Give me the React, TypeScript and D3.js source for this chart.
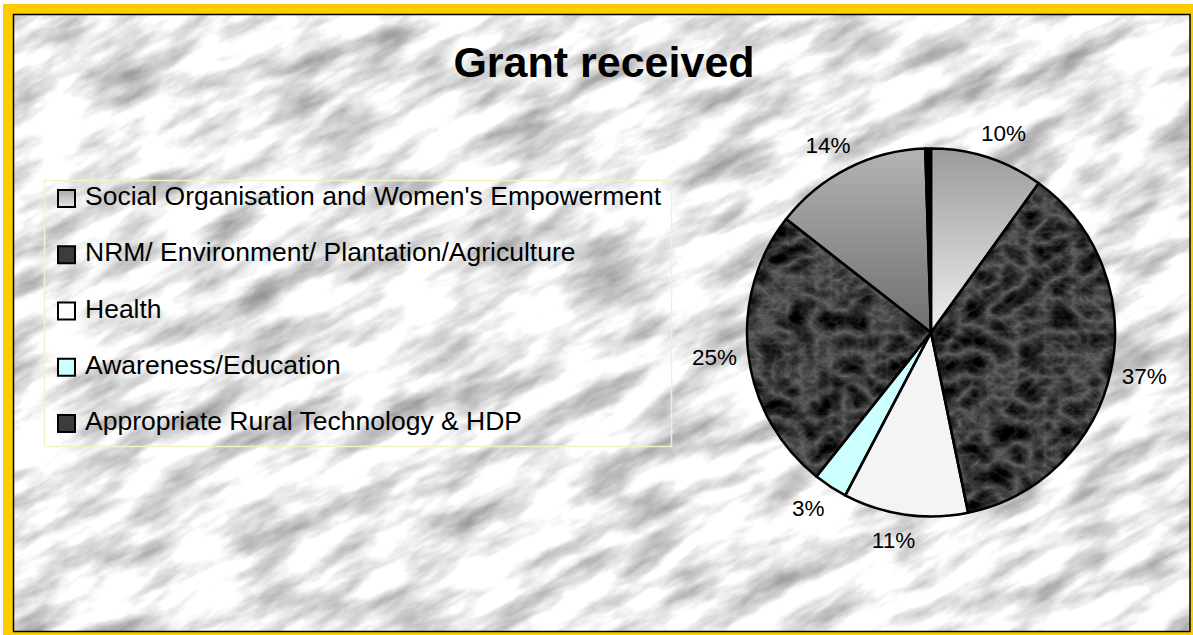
import React from 'react';
import * as d3 from 'd3';

const title = 'Grant received';
const legendLabels = [
  "Social Organisation and Women's Empowerment",
  'NRM/ Environment/ Plantation/Agriculture',
  'Health',
  'Awareness/Education',
  'Appropriate Rural Technology & HDP',
];
// slice values, clockwise from 12 o'clock (last two slices are not listed in the legend)
const sliceValues = [10, 37, 11, 3, 25, 14, 0.5];
const sliceFills = ['url(#gradLight)', 'marble', '#f4f4f4', '#ccffff', 'marble', 'url(#gradMid)', '#000000'];
const legendFills = ['url(#gradSwatch)', '#3c3c3c', '#ffffff', '#ccffff', '#3c3c3c'];

const W = 1193;
const H = 635;
const cx = 931;
const cy = 332.5;
const R = 184;

export default function App() {
  const pie = d3.pie<number>().sort(null).value((d) => d);
  const arcs = pie(sliceValues);
  const arc = d3.arc<d3.PieArcDatum<number>>().innerRadius(0).outerRadius(R);
  const total = d3.sum(sliceValues);
  const fmt = d3.format('.0%');

  const legendY = d3.scalePoint<number>().domain(d3.range(legendLabels.length)).range([205, 430]);

  return (
    <svg width={W} height={H} style={{ position: 'absolute', left: 0, top: 0, background: '#fff' }}
      fontFamily="'Liberation Sans', Arial, sans-serif">
      <defs>
        <filter id="bgMarble" filterUnits="userSpaceOnUse" x={-400} y={-600} width={2000} height={1800}
          colorInterpolationFilters="sRGB">
          <feTurbulence type="fractalNoise" baseFrequency="0.012 0.04" numOctaves={5} seed={3} result="n" />
          <feColorMatrix in="n" type="matrix"
            values="0.85 0 0 0 0.5  0.85 0 0 0 0.5  0.85 0 0 0 0.5  0 0 0 0 1" result="g" />
          <feComposite in="g" in2="SourceAlpha" operator="in" />
        </filter>
        <filter id="darkMarble" filterUnits="userSpaceOnUse" x={-R - 10} y={-R - 10} width={2 * R + 20} height={2 * R + 20}
          colorInterpolationFilters="sRGB">
          <feTurbulence type="turbulence" baseFrequency="0.035 0.045" numOctaves={5} seed={11} result="n" />
          <feColorMatrix in="n" type="matrix"
            values="-0.6 0 0 0 0.42  -0.6 0 0 0 0.42  -0.6 0 0 0 0.42  0 0 0 0 1" result="g" />
          <feComposite in="g" in2="SourceAlpha" operator="in" />
        </filter>
        <linearGradient id="gradLight" x1="0" y1="0" x2="0" y2="1">
          <stop offset="0" stopColor="#9a9a9a" />
          <stop offset="1" stopColor="#f0f0f0" />
        </linearGradient>
        <linearGradient id="gradMid" x1="0" y1="0" x2="0" y2="1">
          <stop offset="0" stopColor="#b4b4b4" />
          <stop offset="1" stopColor="#6e6e6e" />
        </linearGradient>
        <linearGradient id="gradSwatch" x1="0" y1="0" x2="0" y2="1">
          <stop offset="0" stopColor="#a8a8a8" />
          <stop offset="1" stopColor="#e8e8e8" />
        </linearGradient>
        <clipPath id="innerClip">
          <rect x={13.5} y={14.5} width={1176.5} height={617} />
        </clipPath>
      </defs>

      {/* yellow frame */}
      <rect x={3} y={4} width={W} height={H} fill="#ffcc00" />
      {/* marble background */}
      <g clipPath="url(#innerClip)">
        <rect x={13.5} y={14.5} width={1176.5} height={617} fill="#e6e6e6" />
        <g transform="rotate(-28 600 320)">
          <rect x={-400} y={-600} width={2000} height={1800} fill="#fff" filter="url(#bgMarble)" />
        </g>
      </g>
      <rect x={13.5} y={14.5} width={1176.5} height={617} fill="none" stroke="#000" strokeWidth={1.5} />

      {/* title */}
      <text x={604} y={77} textAnchor="middle" fontSize={43} fontWeight="bold" fill="#000">{title}</text>

      {/* legend */}
      <rect x={44.5} y={180.5} width={627} height={266} fill="none" stroke="#f2f2c4" strokeWidth={1.5} />
      {legendLabels.map((lab, i) => (
        <g key={lab}>
          <rect x={58} y={legendY(i)! - 15} width={17} height={17} fill={legendFills[i]} stroke="#000" strokeWidth={2} />
          <text x={85} y={legendY(i)} fontSize={26.5} fill="#000">{lab}</text>
        </g>
      ))}

      {/* pie */}
      {arcs.map((a, i) => (
        <path key={'s' + i} d={arc(a)!} transform={`translate(${cx},${cy})`}
          fill={sliceFills[i] === 'marble' ? '#333' : sliceFills[i]}
          filter={sliceFills[i] === 'marble' ? 'url(#darkMarble)' : undefined} />
      ))}
      {arcs.map((a, i) => (
        <path key={'o' + i} d={arc(a)!} transform={`translate(${cx},${cy})`}
          fill="none" stroke="#000" strokeWidth={2.5} strokeLinejoin="round" />
      ))}

      {/* percentage labels */}
      {arcs.map((a, i) => {
        const p = a.data / total;
        if (p < 0.01) return null;
        const mid = (a.startAngle + a.endAngle) / 2;
        const s = Math.sin(mid);
        const c = Math.cos(mid);
        const x = cx + s * (R + 26) + Math.sign(s) * 8;
        const y = cy - c * (R + 26);
        return (
          <text key={'l' + i} x={x} y={y} dy="0.35em" textAnchor="middle" fontSize={22.5} fill="#000">
            {fmt(p)}
          </text>
        );
      })}
    </svg>
  );
}
